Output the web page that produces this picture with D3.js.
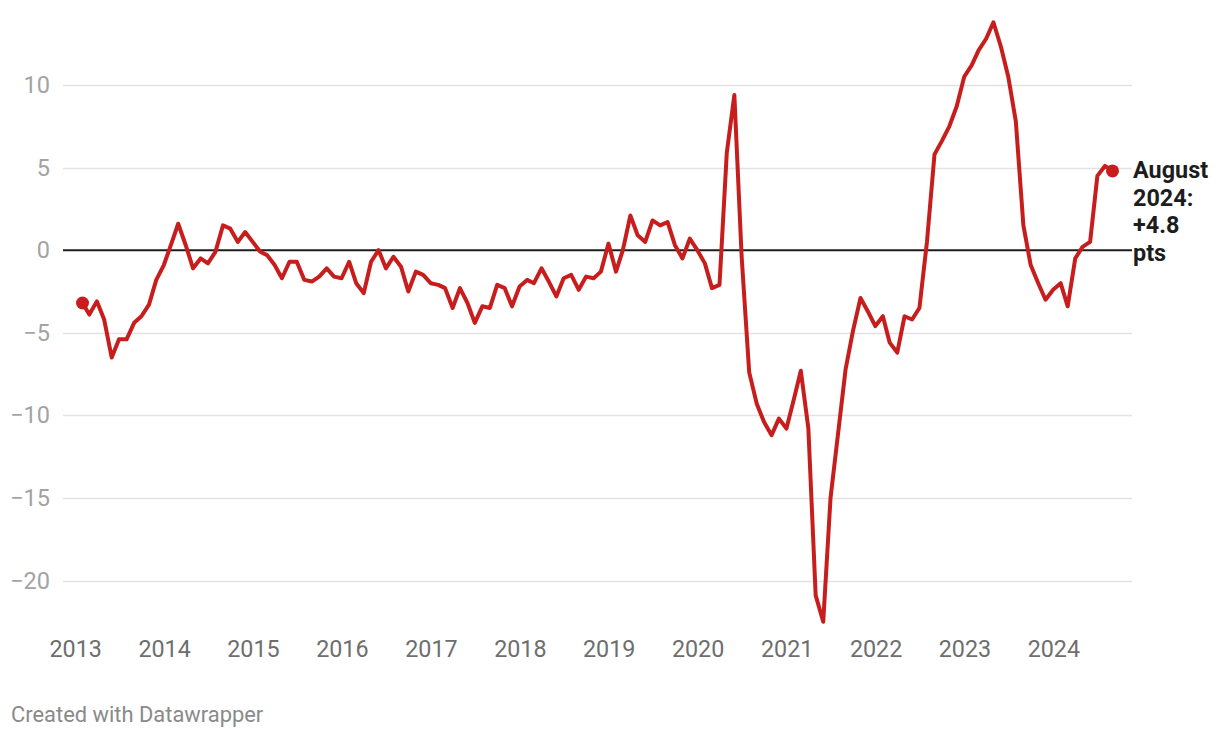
<!DOCTYPE html>
<html>
<head>
<meta charset="utf-8">
<script src="https://cdn.jsdelivr.net/npm/d3@7"></script>
<style>
  html, body { margin: 0; padding: 0; background: #fff; }
  svg { display: block; font-family: Roboto, "Noto Sans", sans-serif; }
</style>
</head>
<body>
<svg id="chart" width="1220" height="738"></svg>
<script>
// ---- data: monthly values, Jan 2013 .. Aug 2024 ----
const firstYear = 2013;
const values2013 = [-3.2, -3.9, -3.1, -4.2, -6.5, -5.4, -5.4, -4.4, -4.0, -3.3, -1.8, -0.9];
const values2014 = [0.4, 1.6, 0.3, -1.1, -0.5, -0.8, -0.1, 1.5, 1.3, 0.5, 1.1, 0.5];
const values2015 = [-0.1, -0.3, -0.9, -1.7, -0.7, -0.7, -1.8, -1.9, -1.6, -1.1, -1.6, -1.7];
const values2016 = [-0.7, -2.0, -2.6, -0.7, 0.0, -1.1, -0.4, -1.0, -2.5, -1.3, -1.5, -2.0];
const values2017 = [-2.1, -2.3, -3.5, -2.3, -3.2, -4.4, -3.4, -3.5, -2.1, -2.3, -3.4, -2.2];
const values2018 = [-1.8, -2.0, -1.1, -1.9, -2.8, -1.7, -1.5, -2.4, -1.6, -1.7, -1.3, 0.4];
const values2019 = [-1.3, 0.0, 2.1, 0.9, 0.5, 1.8, 1.5, 1.7, 0.3, -0.5, 0.7, 0.0];
const values2020 = [-0.8, -2.3, -2.1, 5.9, 9.4, -0.4, -7.4, -9.3, -10.4, -11.2, -10.2, -10.8];
const values2021 = [-9.0, -7.3, -10.8, -20.9, -22.5, -15.0, -11.1, -7.2, -4.9, -2.9, -3.7, -4.6];
const values2022 = [-4.0, -5.6, -6.2, -4.0, -4.2, -3.5, 0.5, 5.8, 6.6, 7.5, 8.7, 10.5];
const values2023 = [11.2, 12.1, 12.8, 13.8, 12.3, 10.5, 7.8, 1.5, -0.9, -2.0, -3.0, -2.4];
const values2024 = [-2.0, -3.4, -0.5, 0.2, 0.5, 4.5, 5.1, 4.8];

const yearLabels = ["2013","2014","2015","2016","2017","2018","2019","2020","2021","2022","2023","2024"];
const yTicks = [10, 5, 0, -5, -10, -15, -20];
const annotationLines = ["August", "2024:", "+4.8", "pts"];
const creditText = "Created with Datawrapper";

// ---- build table ----
const yearly = [values2013, values2014, values2015, values2016, values2017, values2018,
                values2019, values2020, values2021, values2022, values2023, values2024];
const data = [];
yearly.forEach((arr, yi) => {
  arr.forEach((v, m) => {
    // each month placed at its last day
    data.push({ date: new Date(firstYear + yi, m + 1, 0), value: v });
  });
});

const svg = d3.select("#chart");

const x = d3.scaleTime()
  .domain(d3.extent(data, d => d.date))
  .range([82.5, 1112.5]);
const y = d3.scaleLinear()
  .domain([-20, 10])
  .range([580.5, 85]);

const gridLeft = 63, gridRight = 1132;

// gridlines
svg.append("g").selectAll("line")
  .data(yTicks.filter(t => t !== 0))
  .join("line")
  .attr("x1", gridLeft).attr("x2", gridRight)
  .attr("y1", d => Math.round(y(d)) + 0.5).attr("y2", d => Math.round(y(d)) + 0.5)
  .attr("stroke", "#e2e2e2").attr("stroke-width", 1.6);

// y axis labels
const yAxis = svg.append("g")
  .attr("transform", `translate(${gridLeft},0)`)
  .call(d3.axisLeft(y).tickValues(yTicks).tickSize(0).tickPadding(13).tickFormat(d3.format("")));
yAxis.select(".domain").remove();
yAxis.selectAll("text")
  .attr("fill", "#a3a3a3")
  .attr("font-size", 23.5)
  .attr("font-family", "Roboto");

// zero baseline
svg.append("line")
  .attr("x1", gridLeft).attr("x2", gridRight)
  .attr("y1", y(0)).attr("y2", y(0))
  .attr("stroke", "#1d1d1d").attr("stroke-width", 2);

// x axis labels
const yearDates = yearLabels.map(s => new Date(+s, 0, 1));
const xAxis = svg.append("g")
  .attr("transform", "translate(0,625)")
  .call(d3.axisBottom(x).tickValues(yearDates).tickSize(0).tickPadding(15)
        .tickFormat((d, i) => yearLabels[i]));
xAxis.select(".domain").remove();
xAxis.selectAll("text")
  .attr("fill", "#6e6e6e")
  .attr("font-size", 23.3)
  .attr("font-family", "Roboto");

// line
const line = d3.line()
  .x(d => x(d.date))
  .y(d => y(d.value));
svg.append("path")
  .datum(data)
  .attr("fill", "none")
  .attr("stroke", "#c71e1d")
  .attr("stroke-width", 4)
  .attr("stroke-linejoin", "round")
  .attr("stroke-linecap", "round")
  .attr("d", line);

// end dots
const ends = [data[0], data[data.length - 1]];
svg.append("g").selectAll("circle")
  .data(ends)
  .join("circle")
  .attr("cx", d => x(d.date))
  .attr("cy", d => y(d.value))
  .attr("r", 6.5)
  .attr("fill", "#c71e1d");

// annotation
svg.append("text")
  .attr("x", gridRight + 1)
  .attr("y", 178)
  .attr("font-size", 23.4)
  .attr("font-weight", 700)
  .attr("fill", "#1d1d1d")
  .attr("font-family", "Roboto")
  .selectAll("tspan")
  .data(annotationLines)
  .join("tspan")
  .attr("x", gridRight + 1)
  .attr("dy", (d, i) => i === 0 ? 0 : 27.6)
  .text(d => d);

// credit
svg.append("text")
  .attr("x", 11)
  .attr("y", 722)
  .attr("font-size", 21.9)
  .attr("fill", "#8a8a8a")
  .attr("font-family", "Roboto")
  .text(creditText);
</script>
</body>
</html>
